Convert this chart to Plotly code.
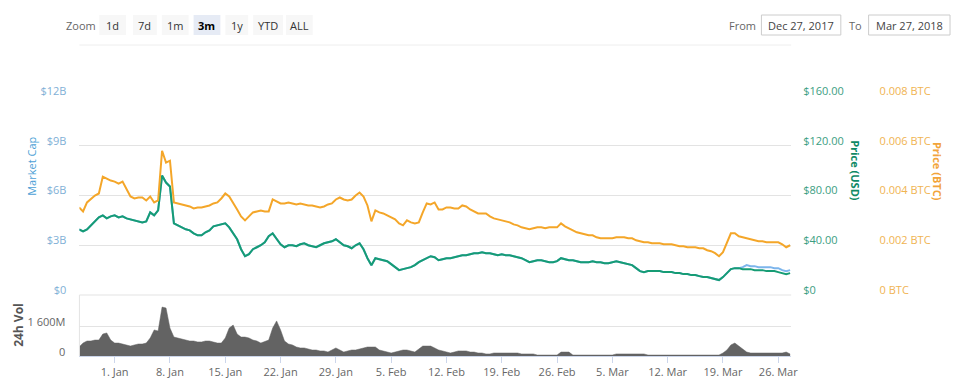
import pandas as pd
import plotly.graph_objects as go

# ---------------- data (12-hour samples from 2017-12-27 12:00) ----------------
start = "2017-12-27 12:00"

price_usd = [
    52.8, 51.2, 52.8, 56.0, 58.4, 62.4, 64.0, 61.6, 63.2, 64.0,
    62.4, 63.2, 61.6, 60.8, 60.0, 59.2, 58.4, 59.2, 66.4, 64.0,
    68.0, 96.0, 90.4, 87.2, 57.6, 56.0, 54.4, 52.8, 52.0, 49.6,
    48.0, 48.0, 50.4, 52.0, 55.2, 56.0, 56.8, 57.6, 54.4, 49.6,
    44.8, 36.8, 31.2, 32.8, 36.8, 38.4, 40.0, 42.4, 47.2, 49.6,
    45.6, 40.8, 38.4, 40.0, 40.0, 39.2, 40.8, 41.6, 40.0, 39.2,
    38.4, 40.0, 41.6, 42.4, 43.2, 44.8, 42.4, 40.0, 39.2, 37.6,
    40.0, 41.6, 36.8, 29.6, 24.0, 29.6, 28.8, 28.0, 27.2, 24.8,
    22.4, 20.0, 20.8, 21.6, 22.4, 24.0, 26.4, 28.0, 29.6, 31.2,
    30.4, 28.0, 28.8, 29.6, 29.6, 30.4, 31.2, 32.0, 32.0, 32.8,
    33.6, 33.6, 34.4, 33.6, 33.6, 32.8, 32.0, 32.8, 32.0, 32.0,
    31.2, 30.4, 29.6, 28.0, 26.4, 27.2, 28.0, 28.0, 27.2, 26.4,
    26.4, 27.2, 29.6, 28.8, 28.0, 28.0, 27.2, 26.4, 26.4, 26.4,
    27.2, 26.4, 26.4, 25.6, 25.6, 26.4, 27.2, 26.4, 25.6, 24.8,
    24.0, 21.6, 19.2, 18.4, 19.2, 19.2, 19.2, 19.2, 18.4, 18.4,
    18.4, 17.6, 17.6, 16.8, 16.8, 16.0, 16.0, 15.2, 14.4, 14.4,
    13.6, 12.8, 12.0, 14.4, 17.6, 20.8, 21.6, 21.6, 20.8, 20.8,
    20.8, 20.0, 20.0, 20.0, 19.2, 19.2, 19.2, 18.4, 17.6, 16.8, 17.6,
]

price_btc = [
    0.00352, 0.00336, 0.00372, 0.00388, 0.00400, 0.00408, 0.00476, 0.00468, 0.00460, 0.00456,
    0.00448, 0.00456, 0.00428, 0.00396, 0.00388, 0.00392, 0.00392, 0.00380, 0.00396, 0.00372,
    0.00380, 0.00580, 0.00532, 0.00540, 0.00372, 0.00368, 0.00364, 0.00360, 0.00356, 0.00348,
    0.00352, 0.00352, 0.00356, 0.00360, 0.00368, 0.00372, 0.00388, 0.00408, 0.00396, 0.00372,
    0.00344, 0.00316, 0.00300, 0.00316, 0.00332, 0.00336, 0.00340, 0.00336, 0.00336, 0.00384,
    0.00376, 0.00368, 0.00368, 0.00372, 0.00368, 0.00364, 0.00368, 0.00364, 0.00360, 0.00360,
    0.00356, 0.00352, 0.00356, 0.00364, 0.00368, 0.00384, 0.00392, 0.00384, 0.00380, 0.00384,
    0.00400, 0.00412, 0.00396, 0.00360, 0.00296, 0.00340, 0.00332, 0.00328, 0.00320, 0.00312,
    0.00304, 0.00288, 0.00280, 0.00300, 0.00292, 0.00288, 0.00292, 0.00332, 0.00368, 0.00364,
    0.00372, 0.00344, 0.00344, 0.00352, 0.00352, 0.00348, 0.00348, 0.00360, 0.00356, 0.00344,
    0.00336, 0.00328, 0.00328, 0.00328, 0.00316, 0.00308, 0.00304, 0.00300, 0.00296, 0.00292,
    0.00284, 0.00280, 0.00272, 0.00268, 0.00264, 0.00268, 0.00272, 0.00272, 0.00268, 0.00272,
    0.00272, 0.00272, 0.00288, 0.00276, 0.00268, 0.00260, 0.00252, 0.00248, 0.00244, 0.00240,
    0.00240, 0.00232, 0.00228, 0.00228, 0.00228, 0.00228, 0.00232, 0.00232, 0.00232, 0.00228,
    0.00228, 0.00220, 0.00216, 0.00212, 0.00212, 0.00208, 0.00208, 0.00208, 0.00204, 0.00204,
    0.00204, 0.00200, 0.00196, 0.00196, 0.00192, 0.00192, 0.00192, 0.00188, 0.00188, 0.00180,
    0.00176, 0.00168, 0.00156, 0.00172, 0.00208, 0.00248, 0.00248, 0.00236, 0.00232, 0.00228,
    0.00224, 0.00220, 0.00216, 0.00216, 0.00212, 0.00212, 0.00212, 0.00212, 0.00204, 0.00192, 0.00200,
]

market_cap_b = [
    3.96, 3.84, 3.96, 4.20, 4.38, 4.68, 4.80, 4.62, 4.74, 4.80,
    4.68, 4.74, 4.62, 4.56, 4.50, 4.44, 4.38, 4.44, 4.98, 4.80,
    5.10, 7.20, 6.78, 6.54, 4.32, 4.20, 4.08, 3.96, 3.90, 3.72,
    3.60, 3.60, 3.78, 3.90, 4.14, 4.20, 4.26, 4.32, 4.08, 3.72,
    3.36, 2.76, 2.34, 2.46, 2.76, 2.88, 3.00, 3.18, 3.54, 3.72,
    3.42, 3.06, 2.88, 3.00, 3.00, 2.94, 3.06, 3.12, 3.00, 2.94,
    2.88, 3.00, 3.12, 3.18, 3.24, 3.36, 3.18, 3.00, 2.94, 2.82,
    3.00, 3.12, 2.76, 2.22, 1.80, 2.22, 2.16, 2.10, 2.04, 1.86,
    1.68, 1.50, 1.56, 1.62, 1.68, 1.80, 1.98, 2.10, 2.22, 2.34,
    2.28, 2.10, 2.16, 2.22, 2.22, 2.28, 2.34, 2.40, 2.40, 2.46,
    2.52, 2.52, 2.58, 2.52, 2.52, 2.46, 2.40, 2.46, 2.40, 2.40,
    2.34, 2.28, 2.22, 2.10, 1.98, 2.04, 2.10, 2.10, 2.04, 1.98,
    1.98, 2.04, 2.22, 2.16, 2.10, 2.10, 2.04, 1.98, 1.98, 1.98,
    2.04, 1.98, 1.98, 1.92, 1.92, 1.98, 2.04, 1.98, 1.92, 1.86,
    1.80, 1.62, 1.44, 1.38, 1.44, 1.44, 1.44, 1.44, 1.38, 1.38,
    1.38, 1.32, 1.32, 1.26, 1.26, 1.20, 1.20, 1.14, 1.08, 1.08,
    1.02, 0.96, 0.90, 1.08, 1.32, 1.56, 1.62, 1.62, 1.68, 1.80,
    1.74, 1.74, 1.68, 1.68, 1.68, 1.68, 1.62, 1.62, 1.50, 1.44, 1.50,
]

volume_m = [
    480, 690, 800, 800, 850, 850, 1170, 1230, 850, 690,
    690, 640, 590, 530, 590, 640, 640, 690, 960, 1390,
    1330, 2610, 2560, 1490, 1010, 960, 910, 850, 800, 800,
    750, 750, 800, 800, 750, 690, 690, 960, 1490, 1650,
    1170, 1010, 1010, 960, 850, 800, 690, 750, 850, 1490,
    1870, 1390, 800, 640, 590, 480, 430, 430, 370, 320,
    320, 270, 270, 210, 320, 430, 320, 210, 270, 320,
    320, 370, 430, 480, 480, 480, 320, 270, 210, 160,
    210, 270, 320, 320, 270, 210, 370, 530, 530, 530,
    430, 320, 270, 210, 160, 210, 270, 270, 270, 210,
    210, 160, 160, 110, 110, 160, 160, 160, 160, 160,
    160, 160, 110, 110, 110, 110, 50, 50, 50, 50,
    50, 50, 210, 210, 210, 50, 50, 50, 50, 50,
    50, 50, 50, 50, 50, 50, 110, 110, 110, 110,
    110, 110, 110, 110, 50, 50, 50, 50, 50, 50,
    50, 50, 50, 50, 50, 50, 50, 50, 50, 50,
    50, 50, 50, 160, 320, 590, 690, 530, 370, 210,
    160, 160, 160, 160, 160, 160, 160, 160, 160, 210, 110,
]

mc_ticks = [0, 3, 6, 9, 12]
mc_labels = ["$0", "$3B", "$6B", "$9B", "$12B"]
usd_ticks = [0, 40, 80, 120, 160]
usd_labels = ["$0", "$40.00", "$80.00", "$120.00", "$160.00"]
btc_ticks = [0, 0.002, 0.004, 0.006, 0.008]
btc_labels = ["0 BTC", "0.002 BTC", "0.004 BTC", "0.006 BTC", "0.008 BTC"]
vol_ticks = [0, 1600]
vol_labels = ["0", "1 600M"]
zoom_buttons = ["1d", "7d", "1m", "3m", "1y", "YTD", "ALL"]
from_date = "Dec 27, 2017"
to_date = "Mar 27, 2018"


def dates(n):
    return pd.date_range(start, periods=n, freq="12h")


W, H = 960, 386
FONT = "Open Sans"


def px(x):
    return x / W


def py(y):
    return 1 - y / H


C_MC = "#7cb5ec"
C_USD = "#169c74"
C_BTC = "#f4a629"
C_VOL = "#636363"
GRID = "#e3e3e3"

fig = go.Figure()
fig.add_trace(go.Scatter(x=dates(len(market_cap_b)), y=market_cap_b, mode="lines",
                         line=dict(color=C_MC, width=2), xaxis="x", yaxis="y", name="Market Cap"))
fig.add_trace(go.Scatter(x=dates(len(price_btc)), y=price_btc, mode="lines",
                         line=dict(color=C_BTC, width=2), xaxis="x", yaxis="y3", name="Price (BTC)"))
fig.add_trace(go.Scatter(x=dates(len(price_usd)), y=price_usd, mode="lines",
                         line=dict(color=C_USD, width=2), xaxis="x", yaxis="y2", name="Price (USD)"))
fig.add_trace(go.Scatter(x=dates(len(volume_m)), y=volume_m, mode="lines", fill="tozeroy",
                         fillcolor=C_VOL, line=dict(color=C_VOL, width=0.5),
                         xaxis="x2", yaxis="y4", name="24h Vol"))

xdom = [px(80), px(797)]
xrange_ = ["2017-12-27 12:56", "2018-03-27 15:13"]
main_dom = [py(295), py(96)]
vol_dom = [py(356), py(295)]

fig.update_layout(
    width=W, height=H, margin=dict(l=0, r=0, t=0, b=0),
    paper_bgcolor="white", plot_bgcolor="white", showlegend=False,
    font=dict(family=FONT, size=11, color="#666666"),
    xaxis=dict(domain=xdom, anchor="y", range=xrange_, showticklabels=False,
               showgrid=False, zeroline=False, showline=False, ticks=""),
    xaxis2=dict(domain=xdom, anchor="y4", matches="x", range=xrange_, showgrid=False,
                zeroline=False, showline=True, linecolor="#ccd6eb", linewidth=1,
                ticks="outside", ticklen=6, tickcolor="#ccd6eb",
                tick0="2018-01-01", dtick=7 * 24 * 3600 * 1000, tickformat="%-d. %b",
                tickfont=dict(family=FONT, size=11, color="#666666")),
    yaxis=dict(domain=main_dom, anchor="x", range=[0, 12], tickvals=mc_ticks, ticktext=mc_labels,
               showgrid=True, gridcolor=GRID, zeroline=False, showline=False,
               ticklabelshift=-5, ticklabelstandoff=12,
               tickfont=dict(family=FONT, size=11, color="#7fb0d6"), automargin=False),
    yaxis2=dict(overlaying="y", side="right", anchor="x", range=[0, 160], tickvals=usd_ticks,
                ticktext=usd_labels, showgrid=False, zeroline=False, showline=False,
                ticklabelshift=-5, ticklabelstandoff=11,
                tickfont=dict(family=FONT, size=11, color="#3c9e82"), automargin=False),
    yaxis3=dict(overlaying="y", side="right", anchor="free", position=px(875), range=[0, 0.008],
                tickvals=btc_ticks, ticktext=btc_labels, showgrid=False, zeroline=False,
                showline=False, ticklabelshift=-5, ticklabelstandoff=10,
                tickfont=dict(family=FONT, size=11, color="#f0b452"), automargin=False),
    yaxis4=dict(domain=vol_dom, anchor="x2", range=[0, 3253], tickvals=vol_ticks, ticktext=vol_labels,
                showgrid=True, gridcolor=GRID, zeroline=False, showline=False,
                ticklabelshift=-4, ticklabelstandoff=13,
                tickfont=dict(family=FONT, size=11, color="#666666"), automargin=False),
)

shapes = []
annotations = []

# panel borders
shapes.append(dict(type="line", xref="paper", yref="paper", x0=px(80), x1=px(797),
                   y0=py(295), y1=py(295), line=dict(color=GRID, width=1)))
shapes.append(dict(type="line", xref="paper", yref="paper", x0=px(80), x1=px(80),
                   y0=py(295), y1=py(356), line=dict(color=GRID, width=1)))
# header separator
shapes.append(dict(type="line", xref="paper", yref="paper", x0=px(80), x1=px(797),
                   y0=py(45), y1=py(45), line=dict(color="#eeeeee", width=1)))

# axis titles
annotations += [
    dict(text="Market Cap", x=px(31), y=py(166), textangle=-90, font=dict(family=FONT, size=11, color="#4d9fd6")),
    dict(text="<b>Price (USD)</b>", x=px(862), y=py(171), textangle=90, font=dict(family=FONT, size=11, color="#0f8a66")),
    dict(text="<b>Price (BTC)</b>", x=px(945), y=py(171), textangle=90, font=dict(family=FONT, size=11, color="#f2a43a")),
    dict(text="<b>24h Vol</b>", x=px(18), y=py(325), textangle=-90, font=dict(family=FONT, size=12, color="#555555")),
]

# range selector
annotations.append(dict(text="Zoom", x=px(82), y=py(25), font=dict(family=FONT, size=11, color="#666666")))
btn_boxes = [(100, 127), (134, 158), (163, 190), (195, 222), (227, 250), (255, 285), (288, 315)]
for label, (a, b) in zip(zoom_buttons, btn_boxes):
    active = label == "3m"
    shapes.append(dict(type="rect", xref="paper", yref="paper", x0=px(a), x1=px(b), y0=py(35), y1=py(15),
                       fillcolor="#e6ebf5" if active else "#f7f7f7", line=dict(width=0), layer="below"))
    annotations.append(dict(text=f"<b>{label}</b>" if active else label, x=px((a + b) / 2), y=py(25),
                            font=dict(family=FONT, size=11, color="#000000" if active else "#333333")))

# date inputs
annotations.append(dict(text="From", x=px(748), y=py(25), font=dict(family=FONT, size=11, color="#666666")))
annotations.append(dict(text="To", x=px(862), y=py(25), font=dict(family=FONT, size=11, color="#666666")))
for text, (a, b) in [(from_date, (767, 847)), (to_date, (875, 957))]:
    shapes.append(dict(type="rect", xref="paper", yref="paper", x0=px(a), x1=px(b), y0=py(35), y1=py(15),
                       fillcolor="white", line=dict(color="#cccccc", width=1)))
    annotations.append(dict(text=text, x=px((a + b) / 2), y=py(25),
                            font=dict(family=FONT, size=11, color="#444444")))

for a in annotations:
    a.update(xref="paper", yref="paper", showarrow=False, xanchor="center", yanchor="middle")

fig.update_layout(shapes=shapes, annotations=annotations)
fig.write_html("out.html", config={"displayModeBar": False},
               post_script="document.body.style.margin='0';")
